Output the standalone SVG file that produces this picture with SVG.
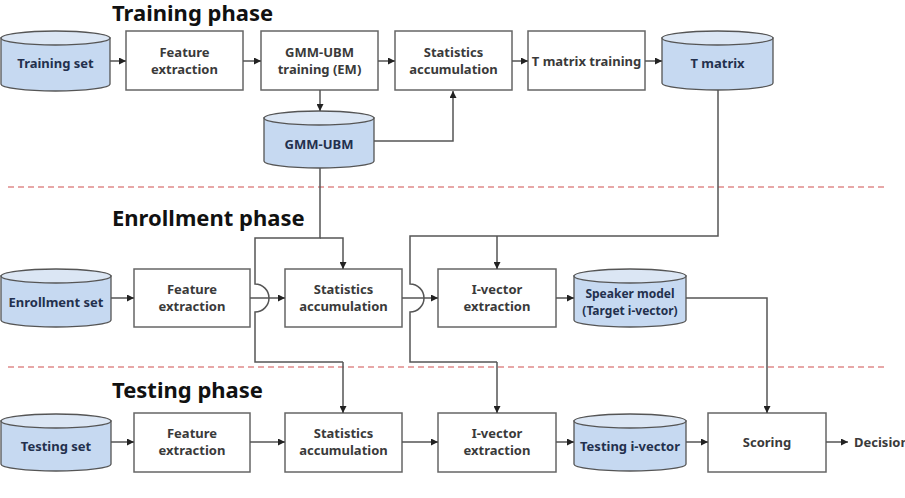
<svg xmlns="http://www.w3.org/2000/svg" width="905" height="498" viewBox="0 0 905 498">
<style>
.box{fill:#fff;stroke:#666;stroke-width:1.5}
.cyl{fill:#c6d9f1;stroke:#555;stroke-width:1.3}
.cyltop{fill:#dbe6f4;stroke:#555;stroke-width:1.3}
.lbl{font-family:"Noto Sans","Liberation Sans",sans-serif;font-weight:bold;font-size:13px;fill:#3a3a3a;text-anchor:middle}
.clbl{font-family:"Noto Sans","Liberation Sans",sans-serif;font-weight:bold;font-size:13px;fill:#23304d;text-anchor:middle}
.sm{font-size:12px}
.title{font-family:"Noto Sans","Liberation Sans",sans-serif;font-weight:bold;font-size:22px;fill:#111}
.ln{fill:none;stroke:#555;stroke-width:1.5}
.arr{fill:none;stroke:#555;stroke-width:1.5;marker-end:url(#ah)}
.dash{stroke:#e08a8a;stroke-width:1.5;stroke-dasharray:6 4}
</style>
<defs>
<marker id="ah" viewBox="0 0 10 10" refX="10" refY="5" markerWidth="7" markerHeight="7" markerUnits="userSpaceOnUse" orient="auto">
<path d="M0,0 L10,5 L0,10 z" fill="#222"/>
</marker>
</defs>
<rect width="905" height="498" fill="#fff"/>

<g id="separators">
<line class="dash" x1="8" y1="187" x2="888" y2="187"/>
<line class="dash" x1="8" y1="367" x2="888" y2="367"/>
</g>

<g id="titles">
<text class="title" x="112" y="21">Training phase</text>
<text class="title" x="112" y="226">Enrollment phase</text>
<text class="title" x="112" y="398">Testing phase</text>
</g>

<!-- Training row -->
<g id="training-set">
<path class="cyl" d="M1,38 V84 A54.5,7 0 0 0 110,84 V38 Z"/>
<ellipse class="cyltop" cx="55.5" cy="38" rx="54.5" ry="7"/>
<text class="clbl" x="55.5" y="68">Training set</text>
</g>
<g id="feature-extraction-1">
<rect class="box" x="126" y="31" width="117" height="59"/>
<text class="lbl" x="184.5" y="57">Feature</text>
<text class="lbl" x="184.5" y="74">extraction</text>
</g>
<g id="gmm-ubm-training">
<rect class="box" x="261" y="31" width="117" height="59"/>
<text class="lbl" x="319.5" y="57">GMM-UBM</text>
<text class="lbl" x="319.5" y="74">training (EM)</text>
</g>
<g id="stats-acc-1">
<rect class="box" x="395" y="31" width="117" height="59"/>
<text class="lbl" x="453.5" y="57">Statistics</text>
<text class="lbl" x="453.5" y="74">accumulation</text>
</g>
<g id="t-matrix-training">
<rect class="box" x="528" y="31" width="117" height="59"/>
<text class="lbl" x="586.5" y="66">T matrix training</text>
</g>
<g id="t-matrix">
<path class="cyl" d="M662,38 V83 A55.5,7 0 0 0 773,83 V38 Z"/>
<ellipse class="cyltop" cx="717.5" cy="38" rx="55.5" ry="7"/>
<text class="clbl" x="717.5" y="68">T matrix</text>
</g>
<g id="gmm-ubm">
<path class="cyl" d="M264,118 V161 A55,7 0 0 0 374,161 V118 Z"/>
<ellipse class="cyltop" cx="319" cy="118" rx="55" ry="7"/>
<text class="clbl" x="319" y="149">GMM-UBM</text>
</g>

<!-- Enrollment row -->
<g id="enrollment-set">
<path class="cyl" d="M1,276 V320 A55,7 0 0 0 111,320 V276 Z"/>
<ellipse class="cyltop" cx="56" cy="276" rx="55" ry="7"/>
<text class="clbl" x="56" y="307">Enrollment set</text>
</g>
<g id="feature-extraction-2">
<rect class="box" x="134" y="269" width="116" height="58"/>
<text class="lbl" x="192" y="294">Feature</text>
<text class="lbl" x="192" y="311">extraction</text>
</g>
<g id="stats-acc-2">
<rect class="box" x="285" y="269" width="117" height="58"/>
<text class="lbl" x="343.5" y="294">Statistics</text>
<text class="lbl" x="343.5" y="311">accumulation</text>
</g>
<g id="ivector-extraction-1">
<rect class="box" x="438" y="269" width="118" height="58"/>
<text class="lbl" x="497" y="294">I-vector</text>
<text class="lbl" x="497" y="311">extraction</text>
</g>
<g id="speaker-model">
<path class="cyl" d="M574,276 V320 A56,7 0 0 0 686,320 V276 Z"/>
<ellipse class="cyltop" cx="630" cy="276" rx="56" ry="7"/>
<text class="clbl sm" x="630" y="298">Speaker model</text>
<text class="clbl sm" x="630" y="315">(Target i-vector)</text>
</g>

<!-- Testing row -->
<g id="testing-set">
<path class="cyl" d="M1,421 V464 A55,7 0 0 0 111,464 V421 Z"/>
<ellipse class="cyltop" cx="56" cy="421" rx="55" ry="7"/>
<text class="clbl" x="56" y="451">Testing set</text>
</g>
<g id="feature-extraction-3">
<rect class="box" x="134" y="413" width="116" height="59"/>
<text class="lbl" x="192" y="438">Feature</text>
<text class="lbl" x="192" y="455">extraction</text>
</g>
<g id="stats-acc-3">
<rect class="box" x="285" y="413" width="117" height="59"/>
<text class="lbl" x="343.5" y="438">Statistics</text>
<text class="lbl" x="343.5" y="455">accumulation</text>
</g>
<g id="ivector-extraction-2">
<rect class="box" x="438" y="413" width="118" height="59"/>
<text class="lbl" x="497" y="438">I-vector</text>
<text class="lbl" x="497" y="455">extraction</text>
</g>
<g id="testing-ivector">
<path class="cyl" d="M574,421 V464 A56,7 0 0 0 686,464 V421 Z"/>
<ellipse class="cyltop" cx="630" cy="421" rx="56" ry="7"/>
<text class="clbl" x="630" y="451">Testing i-vector</text>
</g>
<g id="scoring">
<rect class="box" x="708" y="413" width="118" height="59"/>
<text class="lbl" x="767" y="447">Scoring</text>
</g>
<g id="decision">
<text class="lbl" x="854" y="447" style="text-anchor:start">Decision</text>
</g>

<g id="connectors">
<line class="arr" x1="110" y1="61" x2="126" y2="61"/>
<line class="arr" x1="243" y1="61" x2="261" y2="61"/>
<line class="arr" x1="378" y1="61" x2="395" y2="61"/>
<line class="arr" x1="512" y1="61" x2="528" y2="61"/>
<line class="arr" x1="645" y1="61" x2="662" y2="61"/>
<line class="arr" x1="320" y1="90" x2="320" y2="111"/>
<polyline class="arr" points="374,141 453,141 453,91"/>
<line class="arr" x1="111" y1="298" x2="134" y2="298"/>
<line class="arr" x1="250" y1="298" x2="285" y2="298"/>
<line class="arr" x1="402" y1="298" x2="438" y2="298"/>
<line class="arr" x1="556" y1="298" x2="574" y2="298"/>
<line class="arr" x1="111" y1="442" x2="134" y2="442"/>
<line class="arr" x1="250" y1="442" x2="285" y2="442"/>
<line class="arr" x1="402" y1="442" x2="438" y2="442"/>
<line class="arr" x1="556" y1="442" x2="574" y2="442"/>
<line class="arr" x1="686" y1="442" x2="708" y2="442"/>
<line class="arr" x1="826" y1="442" x2="848" y2="442"/>
<path class="ln" d="M320,168 V238 H255 V284 A14,14 0 0 1 255,312 V362 H343"/>
<line class="arr" x1="343" y1="362" x2="343" y2="413"/>
<polyline class="arr" points="320,238 343,238 343,269"/>
<path class="ln" d="M718,90 V236 H410 V284 A14,14 0 0 1 410,312 V362 H497"/>
<line class="arr" x1="497" y1="362" x2="497" y2="413"/>
<line class="arr" x1="497" y1="236" x2="497" y2="269"/>
<polyline class="arr" points="686,298 767,298 767,413"/>
</g>
</svg>
